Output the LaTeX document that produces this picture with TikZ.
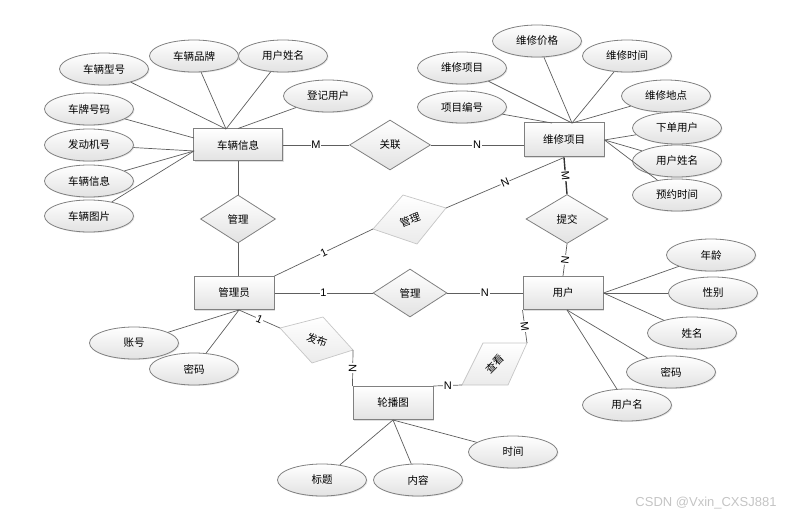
\documentclass[tikz,border=0pt]{standalone}
\usepackage{fontspec}
\setmainfont{Liberation Sans}
\newfontfamily\cjk{Noto Sans CJK SC}
\usetikzlibrary{shapes.geometric,shadows}

\definecolor{erline}{HTML}{5E5E5E}
\definecolor{erbox}{HTML}{808080}
\definecolor{erfill}{HTML}{E2E2E2}
\definecolor{erfaint}{HTML}{C6C6C6}
\definecolor{wmark}{HTML}{C4C4C4}

\tikzset{
  cjktext/.style={font=\cjk\fontsize{10.5}{12}\selectfont},
  entity/.style={cjktext, draw=erbox, line width=1pt, top color=white, bottom color=erfill,
    minimum width=80pt, minimum height=33pt, inner sep=0pt,
    drop shadow={shadow xshift=1pt, shadow yshift=-1pt, opacity=0.25}},
  attr/.style={cjktext, ellipse, draw=erbox, line width=0.8pt, top color=white, bottom color=erfill,
    minimum width=89pt, minimum height=32pt, inner sep=0pt,
    drop shadow={shadow xshift=1pt, shadow yshift=-1pt, opacity=0.2}},
  rel/.style={cjktext, diamond, draw=erbox, line width=0.8pt, top color=white, bottom color=erfill,
    minimum width=80pt, minimum height=49pt, inner sep=0pt},
  faintrel/.style={draw=erfaint, line width=0.7pt, top color=white, bottom color=erfill!70},
  link/.style={draw=erline, line width=0.7pt},
  boldlink/.style={draw=black!80, line width=1.4pt},
  card/.style={fill=white, inner sep=0.8pt, font=\fontsize{11}{12}\selectfont},
}

\begin{document}
\begin{tikzpicture}[x=1pt,y=-1pt]

\useasboundingbox (0,0) rectangle (788,516);

% entities
\node[entity, minimum width=89pt, minimum height=32pt] (clxx) at (238,145) {车辆信息};
\node[entity, minimum height=34pt] (wxxm) at (564,140) {维修项目};
\node[entity] (gly) at (234,293) {管理员};
\node[entity] (yh) at (563,293) {用户};
\node[entity] (lbt) at (393,403) {轮播图};

% relations
\node[rel, minimum width=81pt, minimum height=50pt] (gl) at (390,145) {关联};
\node[rel, minimum width=75pt, minimum height=48pt] (gl1) at (238,219) {管理};
\node[rel, minimum width=82pt] (tj) at (567,219) {提交};
\node[rel, minimum width=74pt, minimum height=48pt] (gl2) at (410,293) {管理};

% faint relations
\coordinate (gr-l) at (373,229);
\coordinate (gr-t) at (403,195);
\coordinate (gr-r) at (446,208);
\coordinate (gr-b) at (417,244);
\path[faintrel] (gr-l) -- (gr-t) -- (gr-r) -- (gr-b) -- cycle;
\node[cjktext, rotate=20] (gl3) at (410,220) {管理};

\coordinate (fb-l) at (280,328);
\coordinate (fb-t) at (323,317);
\coordinate (fb-r) at (353,350);
\coordinate (fb-b) at (312,363);
\path[faintrel] (fb-l) -- (fb-t) -- (fb-r) -- (fb-b) -- cycle;
\node[cjktext, rotate=-20] (fb) at (317,340) {发布};

\coordinate (ck-tl) at (483,343);
\coordinate (ck-tr) at (527,343);
\coordinate (ck-br) at (508,385);
\coordinate (ck-bl) at (462,385);
\path[faintrel] (ck-tl) -- (ck-tr) -- (ck-br) -- (ck-bl) -- cycle;
\node[cjktext, rotate=45] (ck) at (495,364) {查看};

% attributes
\node[attr] (cxxh) at (104,69) {车辆型号};
\node[attr] (clpp) at (194,56) {车辆品牌};
\node[attr] (yhxm1) at (283,56) {用户姓名};
\node[attr] (djyh) at (328,96) {登记用户};
\node[attr] (cphm) at (89,109) {车牌号码};
\node[attr] (fdjh) at (89,145) {发动机号};
\node[attr] (clxx2) at (89,181) {车辆信息};
\node[attr] (cltp) at (89,216) {车辆图片};

\node[attr] (wxjg) at (537,41) {维修价格};
\node[attr] (wxxm2) at (462,68) {维修项目};
\node[attr] (wxsj) at (627,56) {维修时间};
\node[attr] (wxdd) at (666,96) {维修地点};
\node[attr] (xmbh) at (462,107) {项目编号};
\node[attr] (xdyh) at (677,128) {下单用户};
\node[attr] (yhxm2) at (677,161) {用户姓名};
\node[attr] (yysj) at (677,195) {预约时间};

\node[attr] (nl) at (711,255) {年龄};
\node[attr] (xb) at (713,293) {性别};
\node[attr] (xm) at (692,333) {姓名};
\node[attr] (mm2) at (671,372) {密码};
\node[attr] (yhm) at (627,405) {用户名};

\node[attr] (zh) at (134,343) {账号};
\node[attr] (mm1) at (194,369) {密码};

\node[attr] (bt) at (322,480) {标题};
\node[attr] (nr) at (418,480) {内容};
\node[attr] (sj) at (513,452) {时间};

% attribute links
\coordinate (cl-n) at (226,129);
\coordinate (cl-w1) at (194,138);
\coordinate (cl-w2) at (194,151);
\coordinate (wx-n1) at (572,123);
\coordinate (wx-n2) at (552,123);
\coordinate (yh-s) at (567,310);
\coordinate (gly-s) at (239,310);

\draw[link] (cxxh) -- (cl-n);
\draw[link] (clpp) -- (cl-n);
\draw[link] (yhxm1) -- (cl-n);
\draw[link] (djyh) -- (clxx.north);
\draw[link] (cphm) -- (cl-w1);
\draw[link] (fdjh) -- (cl-w2);
\draw[link] (clxx2) -- (cl-w2);
\draw[link] (cltp) -- (cl-w2);

\draw[link] (wxxm2) -- (wx-n1);
\draw[link] (wxjg) -- (wx-n1);
\draw[link] (wxsj) -- (wx-n1);
\draw[link] (wxdd) -- (wx-n1);
\draw[link] (xmbh) -- (wx-n2);
\draw[link] (xdyh) -- (wxxm.east);
\draw[link] (yhxm2) -- (wxxm.east);
\draw[link] (yysj) -- (wxxm.east);

\draw[link] (nl) -- (yh.east);
\draw[link] (xb) -- (yh.east);
\draw[link] (xm) -- (yh.east);
\draw[link] (mm2) -- (yh-s);
\draw[link] (yhm) -- (yh-s);

\draw[link] (zh) -- (gly-s);
\draw[link] (mm1) -- (gly-s);

\draw[link] (bt) -- (lbt.south);
\draw[link] (nr) -- (lbt.south);
\draw[link] (sj) -- (lbt.south);

% relation links
\draw[link] (clxx) -- (gl) node[card, midway] {M};
\draw[link] (gl.east) -- (gl.east -| wxxm.west) node[card, midway] {N};

\draw[link] (clxx) -- (gl1);
\draw[link] (gl1.south) -- (gly.north -| gl1.south);

\draw[boldlink] (wxxm.south) -- (tj.north) node[card, midway, sloped] {M};
\draw[link] (tj.south) -- (yh.north) node[card, midway, sloped] {N};

\draw[link] (gly) -- (gl2) node[card, midway] {1};
\draw[link] (gl2) -- (yh) node[card, midway] {N};

\draw[link] (gly.north east) -- (gr-l) node[card, midway, sloped] {1};
\draw[link] (gr-r) -- (wxxm.south) node[card, midway, sloped] {N};

\draw[link] (gly-s) -- (fb-l) node[card, midway, sloped] {1};
\draw[link] (fb-r) -- (lbt.north west) node[card, midway, sloped] {N};

\draw[link] (lbt.north east) -- (ck-bl) node[card, midway] {N};
\draw[link] (ck-tr) -- (yh.south west) node[card, midway, sloped] {M};

\node[text=wmark, font=\fontsize{13}{14}\selectfont] (csdn) at (706,503) {CSDN @Vxin\_CXSJ881};

\end{tikzpicture}
\end{document}
